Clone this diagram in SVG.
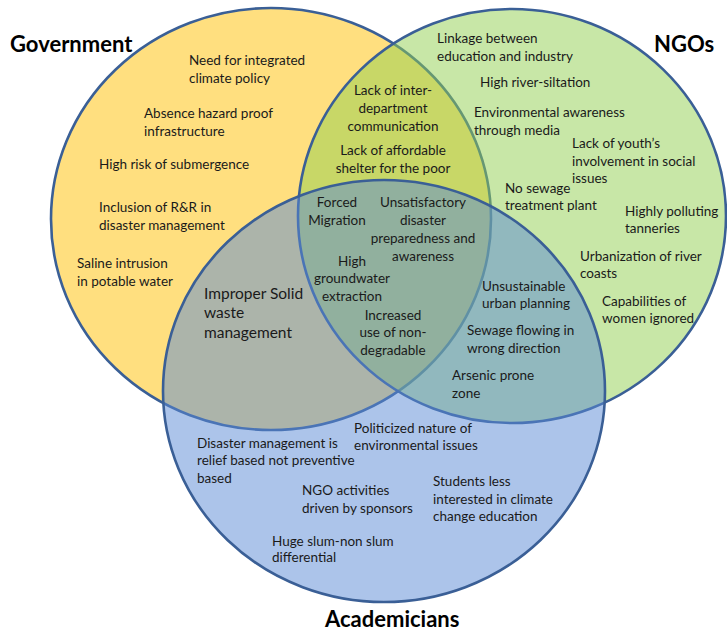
<svg xmlns="http://www.w3.org/2000/svg" width="727" height="632" viewBox="0 0 727 632">
<style>
.c{stroke:#3A5F96;stroke-width:2.6;fill-opacity:0.5}
.t{font-family:Lato,"Liberation Sans",sans-serif;font-size:13.5px;fill:#1a1a1a}
.m{text-anchor:middle}
.h{font-family:Lato,"Liberation Sans",sans-serif;font-weight:bold;font-size:22px;fill:#000}
</style>
<rect width="727" height="632" fill="#fff"/>
<g id="sets">
<ellipse id="government" class="c" cx="271" cy="219" rx="220" ry="211" fill="#FFC000"/>
<ellipse id="ngos" class="c" cx="512" cy="216" rx="214" ry="207" fill="#92D050"/>
<ellipse id="academicians" class="c" cx="384" cy="391" rx="221" ry="211" fill="#5A8AD6"/>
</g>
<g id="titles">
<text class="h" x="10" y="52">Government</text>
<text class="h" x="654" y="52">NGOs</text>
<text class="h" x="325" y="627">Academicians</text>
</g>
<g id="gov-only" class="t">
<text x="189" y="65">Need for integrated<tspan x="189" y="83">climate policy</tspan></text>
<text x="144" y="118">Absence hazard proof<tspan x="144" y="136">infrastructure</tspan></text>
<text x="99" y="169">High risk of submergence</text>
<text x="99" y="212">Inclusion of R&amp;R in<tspan x="99" y="230">disaster management</tspan></text>
<text x="77" y="268">Saline intrusion<tspan x="77" y="286">in potable water</tspan></text>
</g>
<g id="ngo-only" class="t">
<text x="437" y="43">Linkage between<tspan x="437" y="61">education and industry</tspan></text>
<text x="480" y="87">High river-siltation</text>
<text x="474" y="117">Environmental awareness<tspan x="474" y="135">through media</tspan></text>
<text x="572" y="148">Lack of youth’s<tspan x="572" y="166">involvement in social</tspan><tspan x="572" y="183">issues</tspan></text>
<text x="505" y="193">No sewage<tspan x="505" y="210">treatment plant</tspan></text>
<text x="625" y="216">Highly polluting<tspan x="625" y="233">tanneries</tspan></text>
<text x="580" y="261">Urbanization of river<tspan x="580" y="278">coasts</tspan></text>
<text x="602" y="306">Capabilities of<tspan x="602" y="323">women ignored</tspan></text>
</g>
<g id="gov-ngo" class="t m">
<text x="393" y="95">Lack of inter-<tspan x="393" y="113">department</tspan><tspan x="393" y="131">communication</tspan></text>
<text x="393" y="155">Lack of affordable<tspan x="393" y="173">shelter for the poor</tspan></text>
</g>
<g id="all-three" class="t m">
<text x="337" y="207">Forced<tspan x="337" y="225">Migration</tspan></text>
<text x="423" y="207">Unsatisfactory<tspan x="423" y="225">disaster</tspan><tspan x="423" y="243">preparedness and</tspan><tspan x="423" y="261">awareness</tspan></text>
<text x="352" y="266">High<tspan x="352" y="283">groundwater</tspan><tspan x="352" y="301">extraction</tspan></text>
<text x="393" y="320">Increased<tspan x="393" y="337">use of non-</tspan><tspan x="393" y="355">degradable</tspan></text>
</g>
<g id="gov-acad" class="t">
<text x="204" y="299" font-size="15.5">Improper Solid<tspan x="204" y="318">waste</tspan><tspan x="204" y="338">management</tspan></text>
</g>
<g id="ngo-acad" class="t">
<text x="482" y="291">Unsustainable<tspan x="482" y="308">urban planning</tspan></text>
<text x="467" y="335">Sewage flowing in<tspan x="467" y="353">wrong direction</tspan></text>
<text x="452" y="380">Arsenic prone<tspan x="452" y="398">zone</tspan></text>
</g>
<g id="acad-only" class="t">
<text x="354" y="433">Politicized nature of<tspan x="354" y="450">environmental issues</tspan></text>
<text x="197" y="448">Disaster management is<tspan x="197" y="465">relief based not preventive</tspan><tspan x="197" y="483">based</tspan></text>
<text x="302" y="495">NGO activities<tspan x="302" y="513">driven by sponsors</tspan></text>
<text x="433" y="486">Students less<tspan x="433" y="504">interested in climate</tspan><tspan x="433" y="521">change education</tspan></text>
<text x="272" y="546">Huge slum-non slum<tspan x="272" y="562">differential</tspan></text>
</g>
</svg>
